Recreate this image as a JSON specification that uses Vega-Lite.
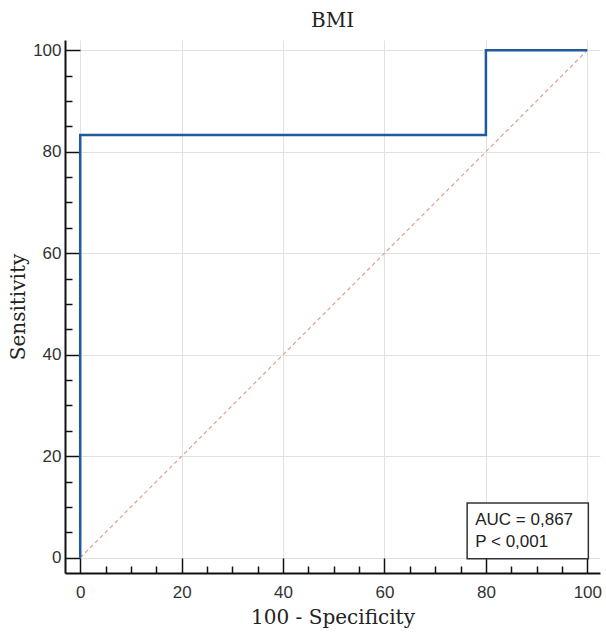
{
  "$schema": "https://vega.github.io/schema/vega-lite/v6.json",
  "autosize": {"type": "none"},
  "padding": {"left": 65, "top": 40, "right": 6, "bottom": 60},
  "width": 535,
  "height": 533,
  "background": "white",
  "title": {"text": "BMI", "font": "DejaVu Serif", "fontSize": 20, "fontWeight": "normal", "color": "#222", "offset": 9, "anchor": "middle"},
  "config": {
    "view": {"stroke": null},
    "axis": {
      "labelFont": "Liberation Sans",
      "labelFontSize": 17,
      "labelColor": "#333",
      "titleFont": "DejaVu Serif",
      "titleFontSize": 20,
      "titleFontWeight": "normal",
      "titleColor": "#222",
      "domainColor": "#111",
      "domainWidth": 2,
      "tickColor": "#111",
      "tickWidth": 1.5,
      "gridColor": "#e2e2e2",
      "gridWidth": 1
    }
  },
  "datasets": {
    "roc": [
      {"fpr": 0, "tpr": 0, "ord": 1},
      {"fpr": 0, "tpr": 83.3, "ord": 2},
      {"fpr": 80, "tpr": 83.3, "ord": 3},
      {"fpr": 80, "tpr": 100, "ord": 4},
      {"fpr": 100, "tpr": 100, "ord": 5}
    ],
    "diag": [
      {"fpr": 0, "tpr": 0},
      {"fpr": 100, "tpr": 100}
    ],
    "box": [
      {"x1": 76.3, "x2": 100.2, "y1": -0.2, "y2": 10.8}
    ],
    "txt": [
      {"x": 77.9, "y": 7.5, "label": "AUC = 0,867"},
      {"x": 77.9, "y": 3.2, "label": "P < 0,001"}
    ]
  },
  "encoding": {
    "x": {
      "field": "fpr", "type": "quantitative",
      "scale": {"domain": [-3, 102.5], "nice": false, "zero": false},
      "axis": {
        "title": "100 - Specificity",
        "values": [0,5,10,15,20,25,30,35,40,45,50,55,60,65,70,75,80,85,90,95,100],
        "labelExpr": "datum.value % 20 === 0 ? datum.label : ''",
        "tickSize": {"condition": {"test": "datum.value % 20 === 0", "value": -15}, "value": -7},
        "gridOpacity": {"condition": {"test": "datum.value % 20 === 0", "value": 1}, "value": 0},
        "labelPadding": 26,
        "titlePadding": 7
      }
    },
    "y": {
      "field": "tpr", "type": "quantitative",
      "scale": {"domain": [-3, 102], "nice": false, "zero": false},
      "axis": {
        "title": "Sensitivity",
        "values": [0,5,10,15,20,25,30,35,40,45,50,55,60,65,70,75,80,85,90,95,100],
        "labelExpr": "datum.value % 20 === 0 ? datum.label : ''",
        "tickSize": {"condition": {"test": "datum.value % 20 === 0", "value": -15}, "value": -7},
        "gridOpacity": {"condition": {"test": "datum.value % 20 === 0", "value": 1}, "value": 0},
        "labelPadding": 19,
        "titlePadding": 4
      }
    }
  },
  "layer": [
    {
      "data": {"name": "diag"},
      "mark": {"type": "line", "color": "#dca096", "strokeWidth": 1.2, "strokeDash": [4, 3]},
      "encoding": {}
    },
    {
      "data": {"name": "roc"},
      "mark": {"type": "line", "color": "#1f5a9c", "strokeWidth": 2.5},
      "encoding": {"order": {"field": "ord"}}
    },
    {
      "data": {"name": "box"},
      "mark": {"type": "rect", "fill": "white", "stroke": "#333", "strokeWidth": 1.5},
      "encoding": {
        "x": {"field": "x1", "type": "quantitative"},
        "x2": {"field": "x2"},
        "y": {"field": "y1", "type": "quantitative"},
        "y2": {"field": "y2"}
      }
    },
    {
      "data": {"name": "txt"},
      "mark": {"type": "text", "align": "left", "baseline": "middle", "font": "Liberation Sans", "fontSize": 17, "color": "#222"},
      "encoding": {
        "x": {"field": "x", "type": "quantitative"},
        "y": {"field": "y", "type": "quantitative"},
        "text": {"field": "label"}
      }
    }
  ]
}
